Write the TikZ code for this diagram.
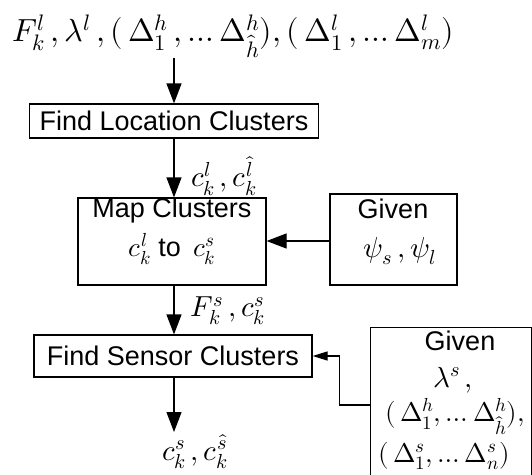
\documentclass[tikz,border=0pt]{standalone}
\usepackage{fontspec}
\usepackage{unicode-math}
\setmainfont{Liberation Sans}
\setmathfont{Latin Modern Math}
\usetikzlibrary{arrows.meta}
\begin{document}
\begin{tikzpicture}[x=1pt,y=-1pt,
  box/.style={draw, line width=1.2pt, inner sep=0pt},
  boxtext/.style={font=\fontsize{27}{30}\selectfont, inner sep=0pt},
  mathtext/.style={font=\fontsize{29}{31}\selectfont, inner sep=0pt},
  givenmath/.style={font=\fontsize{27}{29}\selectfont, inner sep=0pt},
  flow/.style={line width=1.2pt, -{Triangle[length=20pt,width=15pt]}},
  feed/.style={line width=1.2pt, -{Triangle[length=15pt,width=9pt]}}]
\useasboundingbox (0,0) rectangle (532,474);

% inputs of the first stage
\node[inner sep=0pt, font=\fontsize{32}{34}\selectfont] (top) at (233,36)
  {$F_k^l\,,\lambda^l\,,(\,\Delta_1^h\,,\ldots\Delta_{\hat h}^h),(\,\Delta_1^l\,,\ldots\Delta_m^l)$};

% processing boxes
\node[box, minimum width=288.5pt, minimum height=34pt] (loc) at (174,121) {};
\node[boxtext] at (loc.center) {Find Location Clusters};

\node[box, minimum width=188pt, minimum height=87pt] (map) at (172,241.5) {};
\node[boxtext] (maptitle) at (172,211) {Map Clusters};
\node[boxtext] (mapline) at (172,249) {$c_k^l$ to\, $c_k^s$};

\node[box, minimum width=127pt, minimum height=91pt] (given1) at (393.5,239.5) {};
\node[boxtext] (g1title) at (393,209) {Given};
\node[mathtext] (g1line) at (400,251) {$\psi_s\,,\psi_l$};

\node[box, minimum width=278pt, minimum height=42pt] (sensor) at (173,356) {};
\node[boxtext] at (sensor.center) {Find Sensor Clusters};

\node[box, minimum width=160.5pt, minimum height=170pt] (given2) at (451,412.5) {};
\node[boxtext] (g2title) at (460,341) {Given};
\node[mathtext] (g2a) at (453,380) {$\lambda^s\,,$};
\node[givenmath] (g2b) at (455,417) {$(\,\Delta_1^h,\ldots\Delta_{\hat h}^h),$};
\node[givenmath] (g2c) at (444,456) {$(\,\Delta_1^s,\ldots\Delta_n^s)$};

% edge labels
\node[mathtext] (lbl1) at (224,176) {$c_k^l\,,c_k^{\hat l}$};
\node[mathtext] (lbl2) at (228,311) {$F_k^s\,,c_k^s$};
\node[mathtext] (outlbl) at (195,452) {$c_k^s\,,c_k^{\hat s}$};

% connectors
\coordinate (outtip) at (174,432);
\coordinate (g2port) at (0,405);
\coordinate (g1port) at (0,241);
\draw[flow] (top.south -| loc.south) -- (loc.north);
\draw[flow] (loc.south) -- (loc.south |- map.north);
\draw[flow] (given1.west |- g1port) -- (map.east |- g1port);
\draw[flow] (loc.south |- map.south) -- (loc.south |- sensor.north);
\draw[flow] (loc.south |- sensor.south) -- (outtip);
\draw[feed] (given2.west |- g2port) -- ++(-30.5,0) |- (sensor.east);
\end{tikzpicture}
\end{document}
